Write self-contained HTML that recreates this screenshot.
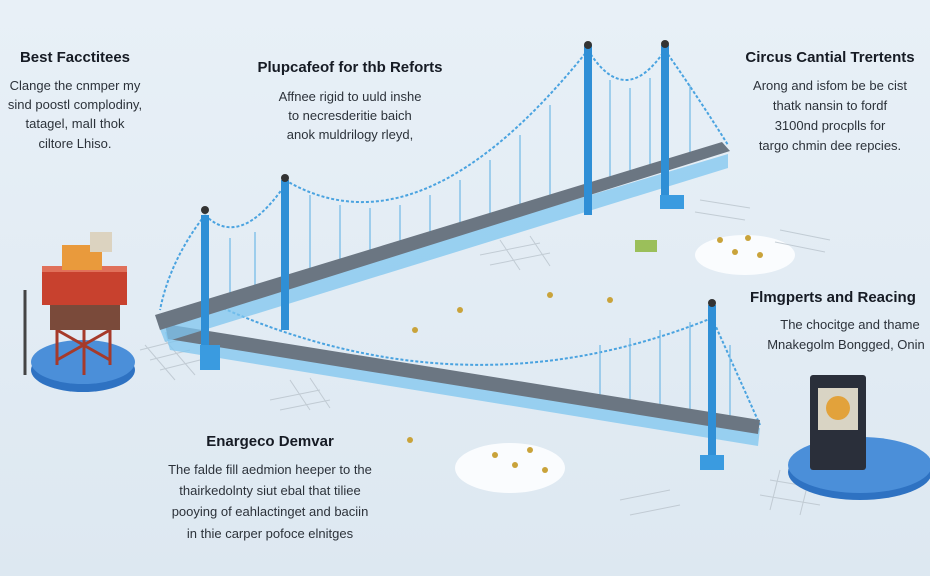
<!DOCTYPE html>
<html><head><meta charset="utf-8"><style>
html,body{margin:0;padding:0;width:930px;height:576px;overflow:hidden;background:#e4eef6;}
svg{position:absolute;left:0;top:0}
.t{font-family:"Liberation Sans",sans-serif;font-weight:bold;font-size:15px;fill:#161b24;text-anchor:middle}
.b{font-family:"Liberation Sans",sans-serif;font-size:13px;fill:#2c323a;text-anchor:middle}
</style></head><body>
<svg width="930" height="576" viewBox="0 0 930 576">
<defs>
<linearGradient id="bg" x1="0" y1="0" x2="0" y2="1"><stop offset="0" stop-color="#e8f0f7"/><stop offset="1" stop-color="#dde8f1"/></linearGradient>
</defs>
<rect width="930" height="576" fill="url(#bg)"/>
<ellipse cx="745" cy="255" rx="50" ry="20" fill="#fafcfe"/>
<ellipse cx="510" cy="468" rx="55" ry="25" fill="#fafcfe"/>
<g stroke="#b9c3cc" stroke-width="1" fill="none" opacity="0.8">
<path d="M140 350 l40 -10 M150 360 l40 -10 M160 370 l40 -10 M145 345 l30 35 M165 340 l30 35"/>
<path d="M270 400 l50 -10 M280 410 l50 -10 M290 380 l20 30 M310 378 l20 30"/>
<path d="M480 255 l60 -12 M490 265 l60 -12 M500 240 l20 30 M530 236 l20 30"/>
<path d="M770 480 l60 10 M760 495 l60 10 M780 470 l-10 40 M810 475 l-10 40"/>
<path d="M700 200 l50 8 M695 212 l50 8 M780 230 l50 10 M775 242 l50 10"/>
<path d="M620 500 l50 -10 M630 515 l50 -10"/>
</g>
<!-- LOWER BRIDGE -->
<path d="M205 300 Q460 420 712 318" stroke="#4aa3e0" stroke-width="2" stroke-dasharray="3 2" fill="none"/>
<path d="M712 318 Q740 380 760 425" stroke="#4aa3e0" stroke-width="2" stroke-dasharray="3 2" fill="none"/>
<g stroke="#6fb8e6" stroke-width="1.2">
<line x1="600" y1="345" x2="600" y2="405"/><line x1="630" y1="338" x2="630" y2="410"/><line x1="660" y1="330" x2="660" y2="416"/><line x1="690" y1="322" x2="690" y2="422"/><line x1="730" y1="345" x2="730" y2="428"/>
</g>
<polygon points="165,332 760,428 758,446 170,350" fill="#7fc5ef" opacity="0.75"/>
<polygon points="165,324 760,420 758,434 168,339" fill="#6b7682"/>
<rect x="708" y="305" width="8" height="165" fill="#2f8fd6"/>
<rect x="700" y="455" width="24" height="15" fill="#3a9be0"/>
<circle cx="712" cy="303" r="4" fill="#333"/>
<!-- UPPER BRIDGE -->
<path d="M285 180 Q420 260 588 50" stroke="#4aa3e0" stroke-width="2" stroke-dasharray="3 2" fill="none"/>
<path d="M205 215 Q240 250 285 185" stroke="#4aa3e0" stroke-width="2" stroke-dasharray="3 2" fill="none"/>
<path d="M588 50 Q625 110 665 50" stroke="#4aa3e0" stroke-width="2" stroke-dasharray="3 2" fill="none"/>
<path d="M665 50 Q700 100 728 145" stroke="#4aa3e0" stroke-width="2" stroke-dasharray="3 2" fill="none"/>
<path d="M205 215 Q170 260 160 310" stroke="#4aa3e0" stroke-width="2" stroke-dasharray="3 2" fill="none"/>
<g stroke="#6fb8e6" stroke-width="1.2">
<line x1="310" y1="195" x2="310" y2="275"/><line x1="340" y1="205" x2="340" y2="266"/><line x1="370" y1="208" x2="370" y2="257"/><line x1="400" y1="205" x2="400" y2="248"/><line x1="430" y1="195" x2="430" y2="239"/><line x1="460" y1="180" x2="460" y2="230"/><line x1="490" y1="160" x2="490" y2="221"/><line x1="520" y1="135" x2="520" y2="212"/><line x1="550" y1="105" x2="550" y2="203"/><line x1="610" y1="80" x2="610" y2="185"/><line x1="630" y1="88" x2="630" y2="179"/><line x1="650" y1="78" x2="650" y2="173"/><line x1="690" y1="85" x2="690" y2="160"/><line x1="230" y1="238" x2="230" y2="300"/><line x1="255" y1="232" x2="255" y2="292"/>
</g>
<polygon points="158,324 728,154 728,168 165,342" fill="#7fc5ef" opacity="0.75"/>
<polygon points="155,315 722,142 730,151 160,330" fill="#6b7682"/>
<rect x="201" y="215" width="8" height="140" fill="#2f8fd6"/>
<rect x="281" y="180" width="8" height="150" fill="#2f8fd6"/>
<rect x="584" y="45" width="8" height="170" fill="#2f8fd6"/>
<rect x="661" y="45" width="8" height="160" fill="#2f8fd6"/>
<rect x="200" y="345" width="20" height="25" fill="#3a9be0"/>
<rect x="660" y="195" width="24" height="14" fill="#3a9be0"/>
<circle cx="588" cy="45" r="4" fill="#333"/><circle cx="665" cy="44" r="4" fill="#333"/><circle cx="285" cy="178" r="4" fill="#333"/><circle cx="205" cy="210" r="4" fill="#333"/>
<g fill="#c9a33a">
<circle cx="720" cy="240" r="3"/><circle cx="735" cy="252" r="3"/><circle cx="748" cy="238" r="3"/><circle cx="760" cy="255" r="3"/><circle cx="495" cy="455" r="3"/><circle cx="515" cy="465" r="3"/><circle cx="530" cy="450" r="3"/><circle cx="545" cy="470" r="3"/><circle cx="410" cy="440" r="3"/><circle cx="550" cy="295" r="3"/><circle cx="610" cy="300" r="3"/><circle cx="415" cy="330" r="3"/><circle cx="460" cy="310" r="3"/>
</g>
<rect x="635" y="240" width="22" height="12" fill="#9bbf5a"/>
<!-- LEFT MACHINE -->
<ellipse cx="83" cy="370" rx="52" ry="22" fill="#2e72c2"/>
<ellipse cx="83" cy="362" rx="52" ry="22" fill="#4b8fd9"/>
<g stroke="#a63a2a" stroke-width="3" fill="none">
<line x1="57" y1="310" x2="57" y2="365"/><line x1="110" y1="310" x2="110" y2="365"/><line x1="84" y1="315" x2="84" y2="375"/>
<path d="M57 330 L110 360 M110 330 L57 360"/>
</g>
<rect x="50" y="300" width="70" height="30" fill="#7a4a3a"/>
<rect x="42" y="270" width="85" height="35" fill="#c8412e"/>
<rect x="42" y="266" width="85" height="6" fill="#e0705a"/>
<rect x="62" y="245" width="40" height="25" fill="#e99a3c"/>
<rect x="90" y="232" width="22" height="20" fill="#dcd3c0"/>
<line x1="25" y1="290" x2="25" y2="375" stroke="#444" stroke-width="3"/>
<!-- RIGHT DEVICE -->
<ellipse cx="860" cy="472" rx="72" ry="28" fill="#2e72c2"/>
<ellipse cx="860" cy="465" rx="72" ry="28" fill="#4b8fd9"/>
<rect x="810" y="375" width="56" height="95" rx="3" fill="#2a2f3a"/>
<rect x="818" y="388" width="40" height="42" fill="#d9d4c4"/>
<circle cx="838" cy="408" r="12" fill="#e2a23b"/>
<!-- TEXT -->
<text class="t" x="75" y="62">Best Facctitees</text>
<text class="b" x="75" y="90">Clange the cnmper my</text>
<text class="b" x="75" y="109">sind poostl complodiny,</text>
<text class="b" x="75" y="128">tatagel, malI thok</text>
<text class="b" x="75" y="148">ciltore Lhiso.</text>
<text class="t" x="350" y="72">Plupcafeof for thb Reforts</text>
<text class="b" x="350" y="101">Affnee rigid to uuld inshe</text>
<text class="b" x="350" y="120">to necresderitie baich</text>
<text class="b" x="350" y="139">anok muldrilogy rleyd,</text>
<text class="t" x="830" y="62">Circus Cantial Trertents</text>
<text class="b" x="830" y="90">Arong and isfom be be cist</text>
<text class="b" x="830" y="110">thatk nansin to fordf</text>
<text class="b" x="830" y="130">3100nd procplls for</text>
<text class="b" x="830" y="150">targo chmin dee repcies.</text>
<text class="t" x="750" y="302" style="text-anchor:start">Flmgperts and Reacing</text>
<text class="b" x="850" y="329">The chocitge and thame</text>
<text class="b" x="846" y="349">Mnakegolm Bongged, Onin</text>
<text class="t" x="270" y="446">Enargeco Demvar</text>
<text class="b" x="270" y="474">The falde fill aedmion heeper to the</text>
<text class="b" x="270" y="495">thairkedolnty siut ebal that tiliee</text>
<text class="b" x="270" y="516">pooying of eahlactinget and baciin</text>
<text class="b" x="270" y="538">in thie carper pofoce elnitges</text>
</svg>
</body></html>
